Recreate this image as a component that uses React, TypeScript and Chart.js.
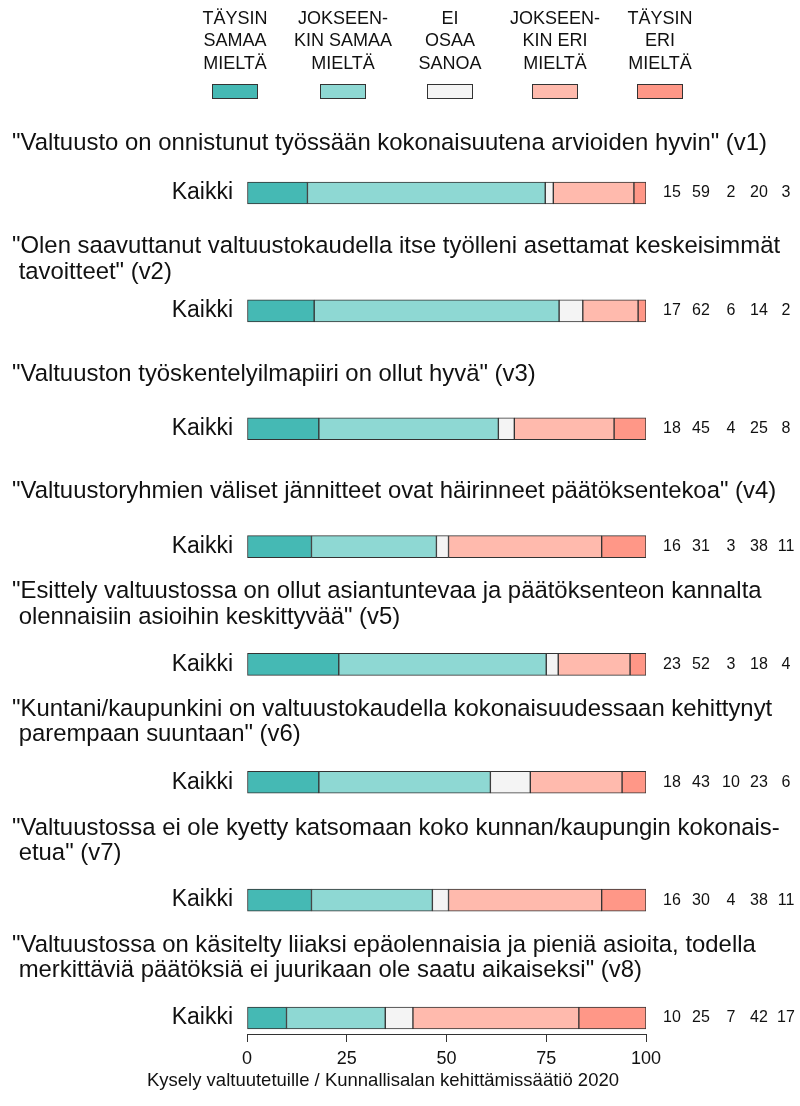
import React, { useEffect, useRef } from 'react';
import { Chart, registerables } from 'chart.js';

Chart.register(...registerables);

// ---------- data ----------
const CATEGORY_NAMES = [
  'Täysin samaa mieltä',
  'Jokseenkin samaa mieltä',
  'Ei osaa sanoa',
  'Jokseenkin eri mieltä',
  'Täysin eri mieltä',
];
const LEGEND_LINES = [
  ['TÄYSIN', 'SAMAA', 'MIELTÄ'],
  ['JOKSEEN-', 'KIN SAMAA', 'MIELTÄ'],
  ['EI', 'OSAA', 'SANOA'],
  ['JOKSEEN-', 'KIN ERI', 'MIELTÄ'],
  ['TÄYSIN', 'ERI', 'MIELTÄ'],
];
const QUESTIONS = [
  ['"Valtuusto on onnistunut työssään kokonaisuutena arvioiden hyvin" (v1)'],
  ['"Olen saavuttanut valtuustokaudella itse työlleni asettamat keskeisimmät', ' tavoitteet" (v2)'],
  ['"Valtuuston työskentelyilmapiiri on ollut hyvä" (v3)'],
  ['"Valtuustoryhmien väliset jännitteet ovat häirinneet päätöksentekoa" (v4)'],
  ['"Esittely valtuustossa on ollut asiantuntevaa ja päätöksenteon kannalta', ' olennaisiin asioihin keskittyvää" (v5)'],
  ['"Kuntani/kaupunkini on valtuustokaudella kokonaisuudessaan kehittynyt', ' parempaan suuntaan" (v6)'],
  ['"Valtuustossa ei ole kyetty katsomaan koko kunnan/kaupungin kokonais-', ' etua" (v7)'],
  ['"Valtuustossa on käsitelty liiaksi epäolennaisia ja pieniä asioita, todella', ' merkittäviä päätöksiä ei juurikaan ole saatu aikaiseksi" (v8)'],
];
const ROW_LABEL = 'Kaikki';
const TAYSIN_SAMAA = [15, 17, 18, 16, 23, 18, 16, 10];
const JOKSEENKIN_SAMAA = [59, 62, 45, 31, 52, 43, 30, 25];
const EI_OSAA = [2, 6, 4, 3, 3, 10, 4, 7];
const JOKSEENKIN_ERI = [20, 14, 25, 38, 18, 23, 38, 42];
const TAYSIN_ERI = [3, 2, 8, 11, 4, 6, 11, 17];
const X_TICKS = [0, 25, 50, 75, 100];
const CAPTION = 'Kysely valtuutetuille / Kunnallisalan kehittämissäätiö 2020';

// ---------- styles / layout ----------
const COLORS = ['#45B9B4', '#8ED8D3', '#F4F4F4', '#FFBAAD', '#FF9787'];
const FONT = '"Liberation Sans", Arial, Helvetica, sans-serif';
const TEXT = '#111111';
const EDGE = '#333333';
const W = 800;
const H = 1106;
const Y_MIN = -0.6194;
const Y_MAX = 7.1358;
const TITLE_OFFSET = [50, 64, 54, 55, 73, 73, 72, 73];
const TITLE_LINE_H = 25.5;
const LEGEND_X = [235, 343, 450, 555, 660];
const LEGEND_LINE_Y = [19, 41.5, 64];
const NUM_X = [672, 701, 731, 759, 786];

const SERIES = [TAYSIN_SAMAA, JOKSEENKIN_SAMAA, EI_OSAA, JOKSEENKIN_ERI, TAYSIN_ERI];
const totals = QUESTIONS.map((_, i) => SERIES.reduce((s, arr) => s + arr[i], 0));

const overlayPlugin = {
  id: 'overlay',
  afterDraw(chart: any) {
    const ctx = chart.ctx;
    const y = chart.scales.y;
    ctx.save();
    ctx.fillStyle = TEXT;
    ctx.textBaseline = 'middle';

    // legend
    ctx.font = `18px ${FONT}`;
    ctx.textAlign = 'center';
    LEGEND_LINES.forEach((lines, k) => {
      lines.forEach((ln, j) => ctx.fillText(ln, LEGEND_X[k], LEGEND_LINE_Y[j]));
      ctx.fillStyle = COLORS[k];
      ctx.fillRect(LEGEND_X[k] - 23, 84, 46, 15);
      ctx.strokeStyle = EDGE;
      ctx.lineWidth = 1;
      ctx.strokeRect(LEGEND_X[k] - 23 + 0.5, 84.5, 45, 14);
      ctx.fillStyle = TEXT;
    });

    // question titles
    ctx.font = `23.9px ${FONT}`;
    ctx.textAlign = 'left';
    QUESTIONS.forEach((lines, i) => {
      const py = y.getPixelForValue(i);
      lines.forEach((ln, j) => ctx.fillText(ln, 12, py - TITLE_OFFSET[i] + j * TITLE_LINE_H));
    });

    // numbers
    ctx.font = `16px ${FONT}`;
    ctx.textAlign = 'center';
    QUESTIONS.forEach((_, i) => {
      const py = y.getPixelForValue(i);
      SERIES.forEach((arr, k) => ctx.fillText(String(arr[i]), NUM_X[k], py));
    });

    // caption
    ctx.font = `18.5px ${FONT}`;
    ctx.fillText(CAPTION, 383, 1081);
    ctx.restore();
  },
};

export default function App() {
  const ref = useRef<HTMLCanvasElement>(null);
  useEffect(() => {
    if (!ref.current) return;
    const chart = new Chart(ref.current, {
      type: 'bar',
      data: {
        datasets: SERIES.map((arr, k) => ({
          label: CATEGORY_NAMES[k],
          data: arr.map((v, i) => ({ x: (v / totals[i]) * 100, y: i })),
          backgroundColor: COLORS[k],
          borderColor: EDGE,
          borderWidth: 1,
          borderSkipped: false,
          barThickness: 22,
          grouped: false,
        })),
      },
      plugins: [overlayPlugin],
      options: {
        indexAxis: 'y',
        responsive: false,
        animation: false,
        devicePixelRatio: 1,
        layout: { padding: { left: 172, right: 154, top: 120, bottom: 32 } },
        plugins: { legend: { display: false }, tooltip: { enabled: false }, title: { display: false } },
        scales: {
          x: {
            type: 'linear',
            min: 0,
            max: 100,
            stacked: true,
            offset: false,
            afterBuildTicks: (s: any) => {
              s.ticks = X_TICKS.map((v) => ({ value: v }));
            },
            afterFit: (s: any) => {
              s.height = 40;
            },
            grid: { display: true, drawOnChartArea: false, drawTicks: true, tickLength: 8, color: EDGE, lineWidth: 1, offset: false },
            border: { display: true, color: EDGE, width: 1 },
            ticks: { padding: 6, color: TEXT, font: { family: FONT, size: 18 }, autoSkip: false, maxRotation: 0 },
          },
          y: {
            type: 'linear',
            min: Y_MIN,
            max: Y_MAX,
            reverse: true,
            offset: false,
            afterBuildTicks: (s: any) => {
              s.ticks = QUESTIONS.map((_, i) => ({ value: i }));
            },
            afterFit: (s: any) => {
              s.width = 75;
            },
            grid: { display: false, drawTicks: false, offset: false },
            border: { display: false },
            ticks: {
              padding: 14,
              color: TEXT,
              font: { family: FONT, size: 23 },
              autoSkip: false,
              callback: () => ROW_LABEL,
            },
          },
        },
      },
    } as any);
    return () => chart.destroy();
  }, []);

  return (
    <div style={{ position: 'absolute', left: 0, top: 0, width: W, height: H, background: '#fff' }}>
      <canvas ref={ref} width={W} height={H} style={{ display: 'block' }} />
    </div>
  );
}
